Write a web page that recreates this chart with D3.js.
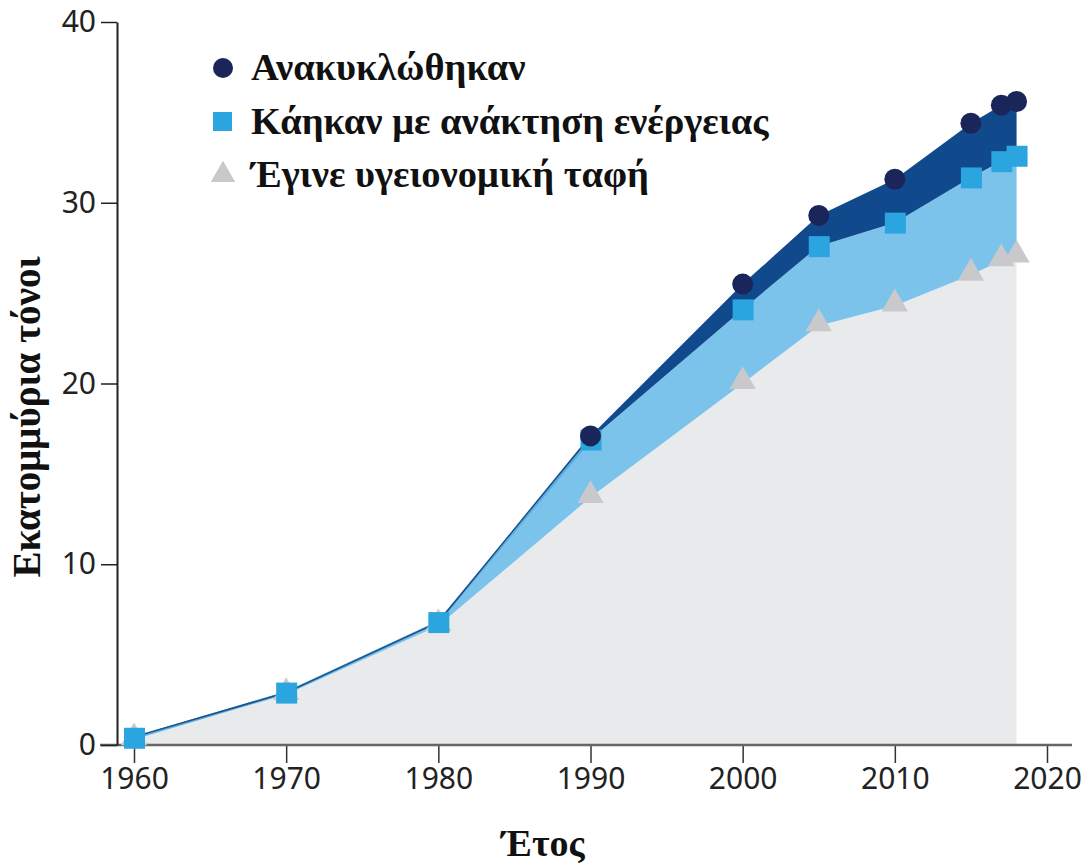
<!DOCTYPE html>
<html><head><meta charset="utf-8">
<script src="https://cdn.jsdelivr.net/npm/d3@7/dist/d3.min.js"></script>
<style>body{margin:0;background:#fff}</style>
</head><body>
<svg id="c" width="1089" height="867"></svg>
<script>
const years = [1960, 1970, 1980, 1990, 2000, 2005, 2010, 2015, 2017, 2018];
const recycled = [0.45, 2.9, 6.8, 17.1, 25.5, 29.3, 31.3, 34.4, 35.4, 35.6];
const energy   = [0.4, 2.9, 6.8, 16.9, 24.1, 27.6, 28.9, 31.4, 32.3, 32.6];
const landfill = [0.3, 2.8, 6.6, 13.7, 20.0, 23.2, 24.3, 26.0, 26.8, 27.0];
const xTicks = [1960, 1970, 1980, 1990, 2000, 2010, 2020];
const yTicks = [0, 10, 20, 30, 40];
const legendLabels = ["Ανακυκλώθηκαν", "Κάηκαν με ανάκτηση ενέργειας", "Έγινε υγειονομική ταφή"];

const svg = d3.select("#c");
const x = d3.scaleLinear().domain([1960, 2020]).range([134, 1047]);
const y = d3.scaleLinear().domain([0, 40]).range([745, 22]);

const rows = years.map((yr, i) => ({yr, r: recycled[i], e: energy[i], l: landfill[i]}));

const area = (top, bot) => d3.area().x(d => x(d.yr)).y0(d => y(bot(d))).y1(d => y(top(d)));
svg.append("path").datum(rows).attr("d", area(d => d.l, d => 0)).attr("fill", "#e9eaec");
svg.append("path").datum(rows).attr("d", area(d => d.e, d => d.l)).attr("fill", "#7cc3ec");
svg.append("path").datum(rows).attr("d", area(d => d.r, d => d.e)).attr("fill", "#114a8c");
const line = acc => d3.line().x(d => x(d.yr)).y(d => y(acc(d)));
svg.append("path").datum(rows.slice(0, 4)).attr("d", line(d => d.e)).attr("fill", "none").attr("stroke", "#5aaee0").attr("stroke-width", 2.5);
svg.append("path").datum(rows.slice(0, 4)).attr("d", line(d => d.r)).attr("fill", "none").attr("stroke", "#1d4f86").attr("stroke-width", 1.5);

// axes
const xAxis = svg.append("g").attr("transform", "translate(0,745)")
  .call(d3.axisBottom(x).tickValues(xTicks).tickFormat(d3.format("d")).tickSize(18).tickSizeOuter(0));
xAxis.select(".domain").remove();
xAxis.append("line").attr("x1", 100).attr("x2", 1072).attr("y1", 0).attr("y2", 0).attr("stroke", "#666").attr("stroke-width", 2.5);
xAxis.selectAll(".tick line").attr("stroke", "#333").attr("stroke-width", 1.5).attr("y1", -1);
xAxis.selectAll(".tick text").attr("y", 23).attr("dy", "0.71em").attr("font-family", "Noto Sans, sans-serif").attr("font-size", 30).attr("fill", "#222");

const yAxis = svg.append("g").attr("transform", "translate(117,0)")
  .call(d3.axisLeft(y).tickValues(yTicks).tickSize(16).tickSizeOuter(0));
yAxis.select(".domain").attr("stroke", "#222").attr("stroke-width", 2);
yAxis.selectAll(".tick line").attr("stroke", "#222").attr("stroke-width", 1.5);
yAxis.selectAll(".tick text").attr("x", -21).attr("font-family", "Noto Sans, sans-serif").attr("font-size", 30).attr("fill", "#222");

// markers
const tri = d3.symbol().type(d3.symbolTriangle).size(300);
svg.append("g").selectAll("path").data(rows).join("path")
  .attr("d", tri).attr("transform", d => `translate(${x(d.yr)},${y(d.l) - 2})`).attr("fill", "#c9c9cb");
svg.append("g").selectAll("rect").data(rows).join("rect")
  .attr("x", d => x(d.yr) - 10).attr("y", d => y(d.e) - 10).attr("width", 21).attr("height", 21).attr("fill", "#2ba5df");
svg.append("g").selectAll("circle").data(rows.slice(3)).join("circle")
  .attr("cx", d => x(d.yr)).attr("cy", d => y(d.r)).attr("r", 10.5).attr("fill", "#1a2559");

// legend
const lg = svg.append("g");
const ly = [68, 122, 175];
lg.append("circle").attr("cx", 223).attr("cy", ly[0]).attr("r", 10).attr("fill", "#1a2559");
lg.append("rect").attr("x", 213).attr("y", ly[1] - 10).attr("width", 19).attr("height", 19).attr("fill", "#2ba5df");
lg.append("path").attr("d", d3.symbol().type(d3.symbolTriangle).size(260)).attr("transform", `translate(223,${ly[2]})`).attr("fill", "#c9c9cb");
lg.selectAll("text").data(legendLabels).join("text")
  .attr("x", 251).attr("y", (d, i) => ly[i] + 12).text(d => d)
  .attr("font-family", "Liberation Serif, serif").attr("font-weight", "bold").attr("font-size", 38.5).attr("fill", "#111");

// titles
svg.append("text").attr("transform", "translate(40,417) rotate(-90)").attr("text-anchor", "middle")
  .attr("font-family", "Liberation Serif, serif").attr("font-weight", "bold").attr("font-size", 39).attr("fill", "#111")
  .text("Εκατομμύρια τόνοι");
svg.append("text").attr("x", 543).attr("y", 856).attr("text-anchor", "middle")
  .attr("font-family", "Liberation Serif, serif").attr("font-weight", "bold").attr("font-size", 38).attr("fill", "#111")
  .text("Έτος");
</script>
</body></html>
